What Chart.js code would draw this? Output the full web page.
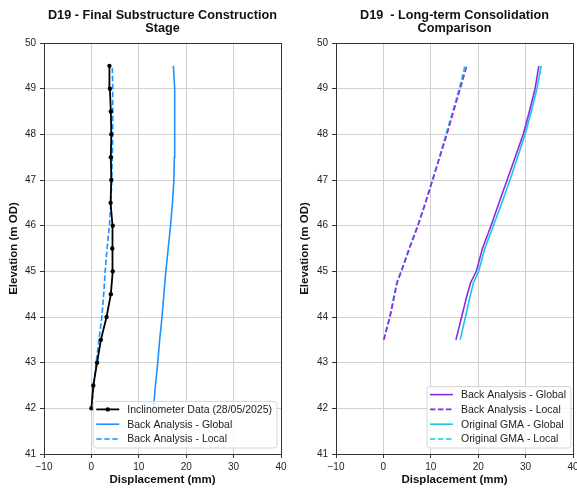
<!DOCTYPE html>
<html>
<head>
<meta charset="utf-8">
<script src="https://cdn.jsdelivr.net/npm/chart.js@4.4.0/dist/chart.umd.min.js"></script>
<style>
  html, body { margin: 0; padding: 0; background: #fff; overflow: hidden; }
  body { width: 577px; height: 488px; position: relative; }
  canvas { position: absolute; top: 0; }
  #leftChart { left: 0; }
  #rightChart { left: 290px; }
</style>
</head>
<body>
<canvas id="leftChart" width="290" height="488"></canvas>
<canvas id="rightChart" width="300" height="488"></canvas>
<script>
// ---- data ----
const xTickValues = [-10, 0, 10, 20, 30, 40];
const yTickValues = [41, 42, 43, 44, 45, 46, 47, 48, 49, 50];

// left panel: final substructure construction stage
const elevLeft = [42, 42.5, 43, 43.5, 44, 44.5, 45, 45.5, 46, 46.5, 47, 47.5, 48, 48.5, 49, 49.5];
const inclinometer = [0.0, 0.4, 1.2, 2.0, 3.2, 4.1, 4.5, 4.4, 4.5, 4.05, 4.2, 4.1, 4.2, 4.1, 3.9, 3.8];
const backGlobalLeft = [13.1, 13.5, 14.0, 14.4, 14.9, 15.3, 15.7, 16.2, 16.7, 17.1, 17.4, 17.5, 17.6, 17.6, 17.5, 17.3];
const backLocalLeft = [0.0, 0.5, 1.0, 1.6, 2.2, 2.6, 2.9, 3.3, 3.8, 4.1, 4.3, 4.4, 4.5, 4.5, 4.5, 4.4];

// right panel: long-term consolidation comparison
const elevRight = [43.5, 44, 44.5, 44.75, 45, 45.5, 46, 46.5, 47, 47.5, 48, 48.5, 49, 49.5];
const backGlobalRight = [15.3, 16.5, 17.7, 18.4, 19.6, 20.9, 22.7, 24.4, 26.1, 27.8, 29.5, 30.8, 32.0, 32.8];
const backLocalRight = [0.1, 1.4, 2.4, 2.9, 3.8, 5.5, 7.3, 8.9, 10.4, 11.9, 13.4, 14.8, 16.2, 17.6];
const gmaGlobalRight = [16.2, 17.3, 18.4, 19.0, 20.1, 21.4, 23.2, 25.0, 26.7, 28.3, 29.9, 31.2, 32.4, 33.3];
const gmaLocalRight = [0.0, 1.3, 2.3, 2.8, 3.7, 5.4, 7.2, 8.8, 10.3, 11.8, 13.2, 14.6, 16.0, 17.2];

const FONT = "'Liberation Sans', Arial, sans-serif";
const BLUE = '#1e90ff';
const PURPLE = '#8a2be2';
const CYAN = '#1cc4ea';

function pts(xs, ys) {
  return xs.map((v, i) => ({ x: v, y: ys[i] }));
}

// title, frame and legend drawn inside the axes like matplotlib
const axesDecor = {
  id: 'axesDecor',
  afterDraw(chart, args, opts) {
    const { ctx, chartArea: a } = chart;
    ctx.save();

    // frame on all four sides
    ctx.strokeStyle = '#333';
    ctx.lineWidth = 1;
    ctx.strokeRect(Math.round(a.left) + 0.5, Math.round(a.top) + 0.5,
      Math.round(a.right - a.left), Math.round(a.bottom - a.top));

    // title
    ctx.fillStyle = '#111';
    ctx.font = 'bold 12.7px ' + FONT;
    ctx.textAlign = 'center';
    ctx.textBaseline = 'alphabetic';
    const cx = (a.left + a.right) / 2;
    opts.title.forEach((t, i) => ctx.fillText(t, cx, 19.3 + i * 12.7));

    // legend
    const sets = chart.data.datasets;
    ctx.font = '10.5px ' + FONT;
    const textW = Math.max(...sets.map(d => ctx.measureText(d.label).width));
    const padL = 3, handle = 23, gap = 8, padR = 5, padT = 8, rowH = 14.8, padB = 9;
    const w = padL + handle + gap + textW + padR;
    const h = padT + (sets.length - 1) * rowH + padB;
    const x0 = a.right - opts.marginRight - w;
    const y0 = a.bottom - 6 - h;

    ctx.beginPath();
    ctx.roundRect(x0, y0, w, h, 3);
    ctx.fillStyle = 'rgba(255,255,255,0.8)';
    ctx.fill();
    ctx.strokeStyle = '#d6d6d6';
    ctx.stroke();

    sets.forEach((d, i) => {
      const y = y0 + padT + i * rowH;
      ctx.strokeStyle = d.borderColor;
      ctx.lineWidth = d.borderWidth;
      ctx.setLineDash(d.borderDash || []);
      ctx.beginPath();
      ctx.moveTo(x0 + padL, y);
      ctx.lineTo(x0 + padL + handle, y);
      ctx.stroke();
      ctx.setLineDash([]);
      if (d.pointRadius > 0) {
        ctx.fillStyle = d.pointBackgroundColor;
        ctx.beginPath();
        ctx.arc(x0 + padL + handle / 2, y, d.pointRadius, 0, Math.PI * 2);
        ctx.fill();
      }
      ctx.fillStyle = '#222';
      ctx.textAlign = 'left';
      ctx.textBaseline = 'middle';
      ctx.fillText(d.label, x0 + padL + handle + gap, y + 0.5);
    });

    ctx.restore();
  }
};

function makeOptions(yWidth, title, yTitlePad, marginRight, padRight) {
  return {
    responsive: false,
    animation: false,
    devicePixelRatio: 1,
    layout: { padding: { left: 0, right: padRight, top: 43, bottom: 0 } },
    plugins: {
      legend: { display: false },
      tooltip: { enabled: false },
      axesDecor: { title: title, marginRight: marginRight }
    },
    scales: {
      x: {
        type: 'linear',
        min: -10,
        max: 40,
        afterBuildTicks: s => { s.ticks = xTickValues.map(v => ({ value: v })); },
        afterFit: s => { s.height = 34; },
        ticks: {
          padding: 3,
          color: '#222',
          font: { family: FONT, size: 10 },
          callback: v => String(v).replace('-', '\u2212')
        },
        grid: { color: '#d0d0d0', tickColor: '#333', tickLength: 4 },
        border: { color: '#333' },
        title: {
          display: true,
          text: 'Displacement (mm)',
          color: '#111',
          font: { family: FONT, size: 11.5, weight: 'bold' },
          padding: { top: 0, bottom: 1 }
        }
      },
      y: {
        type: 'linear',
        min: 41,
        max: 50,
        afterBuildTicks: s => { s.ticks = yTickValues.map(v => ({ value: v })); },
        afterFit: s => { s.width = yWidth; },
        ticks: {
          padding: 4,
          color: '#222',
          font: { family: FONT, size: 10 }
        },
        grid: { color: '#d0d0d0', tickColor: '#333', tickLength: 4 },
        border: { color: '#333' },
        title: {
          display: true,
          text: 'Elevation (m OD)',
          color: '#111',
          font: { family: FONT, size: 11.5, weight: 'bold' },
          padding: { top: yTitlePad, bottom: 0 }
        }
      }
    }
  };
}

new Chart(document.getElementById('leftChart'), {
  type: 'scatter',
  data: {
    datasets: [
      {
        label: 'Inclinometer Data (28/05/2025)',
        data: pts(inclinometer, elevLeft),
        showLine: true,
        borderColor: '#000',
        borderWidth: 1.8,
        pointRadius: 2.2,
        pointBackgroundColor: '#000',
        pointBorderWidth: 0
      },
      {
        label: 'Back Analysis - Global',
        data: pts(backGlobalLeft, elevLeft),
        showLine: true,
        borderColor: BLUE,
        borderWidth: 1.6,
        pointRadius: 0
      },
      {
        label: 'Back Analysis - Local',
        data: pts(backLocalLeft, elevLeft),
        showLine: true,
        borderColor: BLUE,
        borderWidth: 1.6,
        borderDash: [5.5, 2.5],
        pointRadius: 0
      }
    ]
  },
  options: makeOptions(44, ['D19 - Final Substructure Construction', 'Stage'], 7, 4, 9),
  plugins: [axesDecor]
});

new Chart(document.getElementById('rightChart'), {
  type: 'scatter',
  data: {
    datasets: [
      {
        label: 'Back Analysis - Global',
        data: pts(backGlobalRight, elevRight),
        showLine: true,
        borderColor: PURPLE,
        borderWidth: 1.6,
        pointRadius: 0
      },
      {
        label: 'Back Analysis - Local',
        data: pts(backLocalRight, elevRight),
        showLine: true,
        borderColor: PURPLE,
        borderWidth: 1.6,
        borderDash: [5.5, 2.5],
        pointRadius: 0
      },
      {
        label: 'Original GMA - Global',
        data: pts(gmaGlobalRight, elevRight),
        showLine: true,
        borderColor: CYAN,
        borderWidth: 1.6,
        pointRadius: 0
      },
      {
        label: 'Original GMA - Local',
        data: pts(gmaLocalRight, elevRight),
        showLine: true,
        borderColor: CYAN,
        borderWidth: 1.6,
        borderDash: [5.5, 2.5],
        pointRadius: 0
      }
    ]
  },
  options: makeOptions(46, ['D19  - Long-term Consolidation', 'Comparison'], 8, 2, 17),
  plugins: [axesDecor]
});
</script>
</body>
</html>
